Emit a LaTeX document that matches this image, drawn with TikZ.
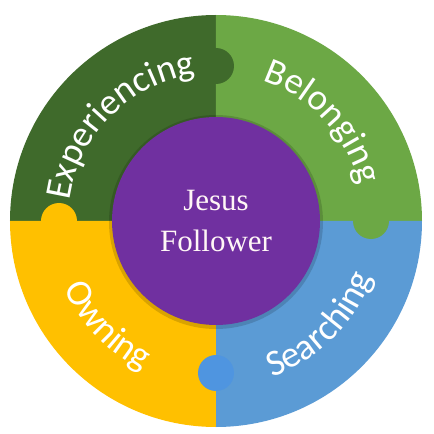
\documentclass[tikz,border=0pt]{standalone}
\usepackage{fontspec}
\setmainfont{Liberation Serif}
\newfontfamily\ringfont{Carlito}
\usetikzlibrary{decorations.text}
\definecolor{darkgrn}{HTML}{3F6A2B}
\definecolor{lightgrn}{HTML}{6CA845}
\definecolor{skyblue}{HTML}{5B9BD5}
\definecolor{knobblue}{HTML}{4F95E0}
\definecolor{gold}{HTML}{FFC000}
\definecolor{purp}{HTML}{7030A0}
\newcommand{\ringstyle}{\ringfont\fontsize{37}{40}\selectfont\color{white}}
\begin{document}
\begin{tikzpicture}[x=1pt, y=1pt,
    ringtext/.style={decorate, decoration={text along path, text align=center, text={|\ringstyle|#1}}}]
    \useasboundingbox[fill=white] (-216,-213) rectangle (218,221);
    % the four pieces
    \fill[darkgrn] (0,0) -- (180:206) arc(180:90:206) -- cycle;
    \fill[lightgrn] (0,0) -- (90:206) arc(90:0:206) -- cycle;
    \fill[skyblue] (0,0) -- (0:206) arc(360:270:206) -- cycle;
    \fill[gold] (0,0) -- (270:206) arc(270:180:206) -- cycle;
    % puzzle knobs
    \fill[darkgrn] (90:155) circle (18);
    \fill[lightgrn] (0:155) circle (18);
    \fill[knobblue] (270:152) circle (18);
    \fill[gold] (180:157) circle (18);
    % soft shadow round the middle
    \fill[black, opacity=0.15] (0,-1) circle (107);
    \node[circle, fill=purp, minimum size=208pt, inner sep=0pt, align=center,
        text=pink!15, font=\fontsize{31}{38}\selectfont] (core) at (0,0) {\raisebox{3pt}{Jesus}\\Follower};
    \path[ringtext={Experiencing}] (175:148) arc(175:95:148);
    \path[ringtext={Belonging}] (83:148) arc(83:3:148);
    \path[ringtext={Owning}] (184:166) arc(184:264:166);
    \path[ringtext={Searching}] (275:166) arc(275:355:166);
\end{tikzpicture}
\end{document}
